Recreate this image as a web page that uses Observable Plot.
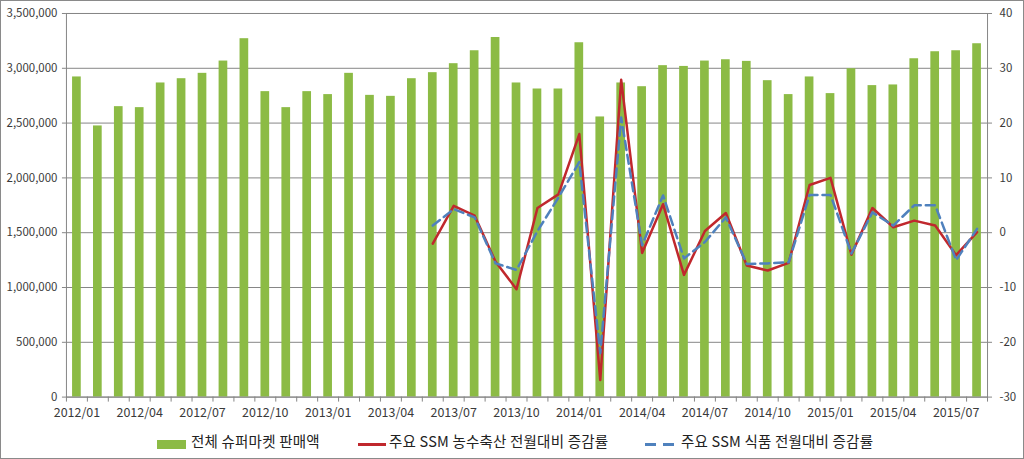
<!DOCTYPE html>
<html><head><meta charset="utf-8">
<script src="https://cdn.jsdelivr.net/npm/d3@7"></script>
<script src="https://cdn.jsdelivr.net/npm/@observablehq/plot@0.6"></script>
<style>
body{margin:0;background:#fff;}
#wrap{position:relative;width:1024px;height:459px;box-sizing:border-box;border:1px solid #8a8a8a;overflow:hidden;font-family:"Noto Sans CJK KR","Noto Sans",sans-serif;background:#fff;}
#chart{position:absolute;left:-1px;top:-1px;}
.lg{position:absolute;top:430px;font-size:14.5px;line-height:20px;color:#222;white-space:nowrap;letter-spacing:0.2px;}
.sw{position:absolute;}
</style></head>
<body>
<div id="wrap">
  <div id="chart"></div>
  <div class="sw" style="left:156px;top:439px;width:29px;height:9px;background:#8cbb45"></div>
  <div class="lg" style="left:190px">전체 슈퍼마켓 판매액</div>
  <div class="sw" style="left:357px;top:442px;width:28px;height:3px;background:#c0282d"></div>
  <div class="lg" style="left:388px">주요 SSM 농수축산 전월대비 증감률</div>
  <div class="sw" style="left:644px;top:442px;width:11px;height:3px;background:#4f81bd"></div>
  <div class="sw" style="left:662px;top:442px;width:11px;height:3px;background:#4f81bd"></div>
  <div class="lg" style="left:680px">주요 SSM 식품 전월대비 증감률</div>
</div>
<script>
const months = ["2012/01","2012/02","2012/03","2012/04","2012/05","2012/06","2012/07","2012/08","2012/09","2012/10","2012/11","2012/12",
"2013/01","2013/02","2013/03","2013/04","2013/05","2013/06","2013/07","2013/08","2013/09","2013/10","2013/11","2013/12",
"2014/01","2014/02","2014/03","2014/04","2014/05","2014/06","2014/07","2014/08","2014/09","2014/10","2014/11","2014/12",
"2015/01","2015/02","2015/03","2015/04","2015/05","2015/06","2015/07","2015/08"];
const sales = [2921000,2474000,2650000,2641000,2866000,2905000,2954000,3066000,3270000,2787000,2641000,2787000,
2760000,2954000,2753000,2744000,2905000,2960000,3042000,3160000,3281000,2866000,2811000,2811000,
3233000,2556000,2866000,2832000,3024000,3017000,3066000,3078000,3063000,2887000,2760000,2921000,
2769000,2996000,2842000,2848000,3087000,3151000,3160000,3224000];
const lineMonths = months.slice(17);
const agriRate = [-2.0,4.9,3.1,-5.3,-10.3,4.5,7.0,
18.0,-26.9,27.9,-3.7,5.2,-7.7,0.3,3.6,-6.0,-6.9,-5.5,8.7,
10.0,-4.0,4.5,1.0,2.2,1.3,-4.1,0.1];
const foodRate = [1.3,4.3,2.8,-5.6,-6.8,0.3,6.4,
12.9,-22.0,21.0,-2.3,6.8,-4.7,-1.7,2.8,-5.7,-5.6,-5.4,6.9,
6.9,-3.8,3.7,1.3,5.0,5.0,-5.0,0.7];
const leftTicks = [0,500000,1000000,1500000,2000000,2500000,3000000,3500000];
const rightTicks = [-30,-20,-10,0,10,20,30,40];
const xLabels = months.filter((d,i)=>i%3===0);

const toLeft = v => (v + 30) * 50000;
const fromLeft = d => Math.round(d / 50000 - 30);

const barData = months.map((m,i)=>({month:m, sales:sales[i]}));
const lineData = lineMonths.map((m,i)=>({month:m, agri:agriRate[i], food:foodRate[i]}));

const W = 1024, H = 425, ML = 66, MR = 36;
const step = (W - ML - MR) / months.length;
const grid = "#868686";
const txt = "#3a3a3a";

const chart = Plot.plot({
  width: W, height: H,
  marginLeft: ML, marginRight: MR, marginTop: 13, marginBottom: 28,
  style: {fontFamily: '"Noto Sans CJK KR","Noto Sans",sans-serif', fontSize: "12px", background: "transparent", overflow: "visible"},
  x: {type: "band", domain: months, paddingInner: 0.585, paddingOuter: 0.2925},
  y: {domain: [0, 3500000]},
  marks: [
    Plot.gridY(leftTicks, {stroke: grid, strokeOpacity: 1}),
    Plot.barY(barData, {x: "month", y: "sales", fill: "#8cbb45"}),
    Plot.frame({stroke: grid}),
    Plot.axisY(leftTicks, {anchor: "left", label: null, tickSize: 4, tickPadding: 5, tickFormat: d3.format(","), stroke: grid, fill: txt, fontSize: 11.5}),
    Plot.axisY(rightTicks.map(toLeft), {anchor: "right", label: null, tickSize: 4, tickPadding: 8, tickFormat: fromLeft, stroke: grid, fill: txt, fontSize: 11.5}),
    Plot.axisX(months, {anchor: "bottom", label: null, tickSize: 5, tickFormat: () => "", dx: -step/2, stroke: grid}),
    Plot.axisX([months[months.length-1]], {anchor: "bottom", label: null, tickSize: 5, tickFormat: () => "", dx: step/2, stroke: grid}),
    Plot.axisX(xLabels, {anchor: "bottom", label: null, tickSize: 0, tickPadding: 11, fill: txt, fontSize: 12.5}),
    Plot.lineY(lineData, {x: "month", y: d => toLeft(d.agri), stroke: "#c0282d", strokeWidth: 2.5}),
    Plot.lineY(lineData, {x: "month", y: d => toLeft(d.food), stroke: "#4f81bd", strokeWidth: 2.5, strokeDasharray: "9,5"})
  ]
});
document.getElementById("chart").appendChild(chart);
</script>
</body></html>
